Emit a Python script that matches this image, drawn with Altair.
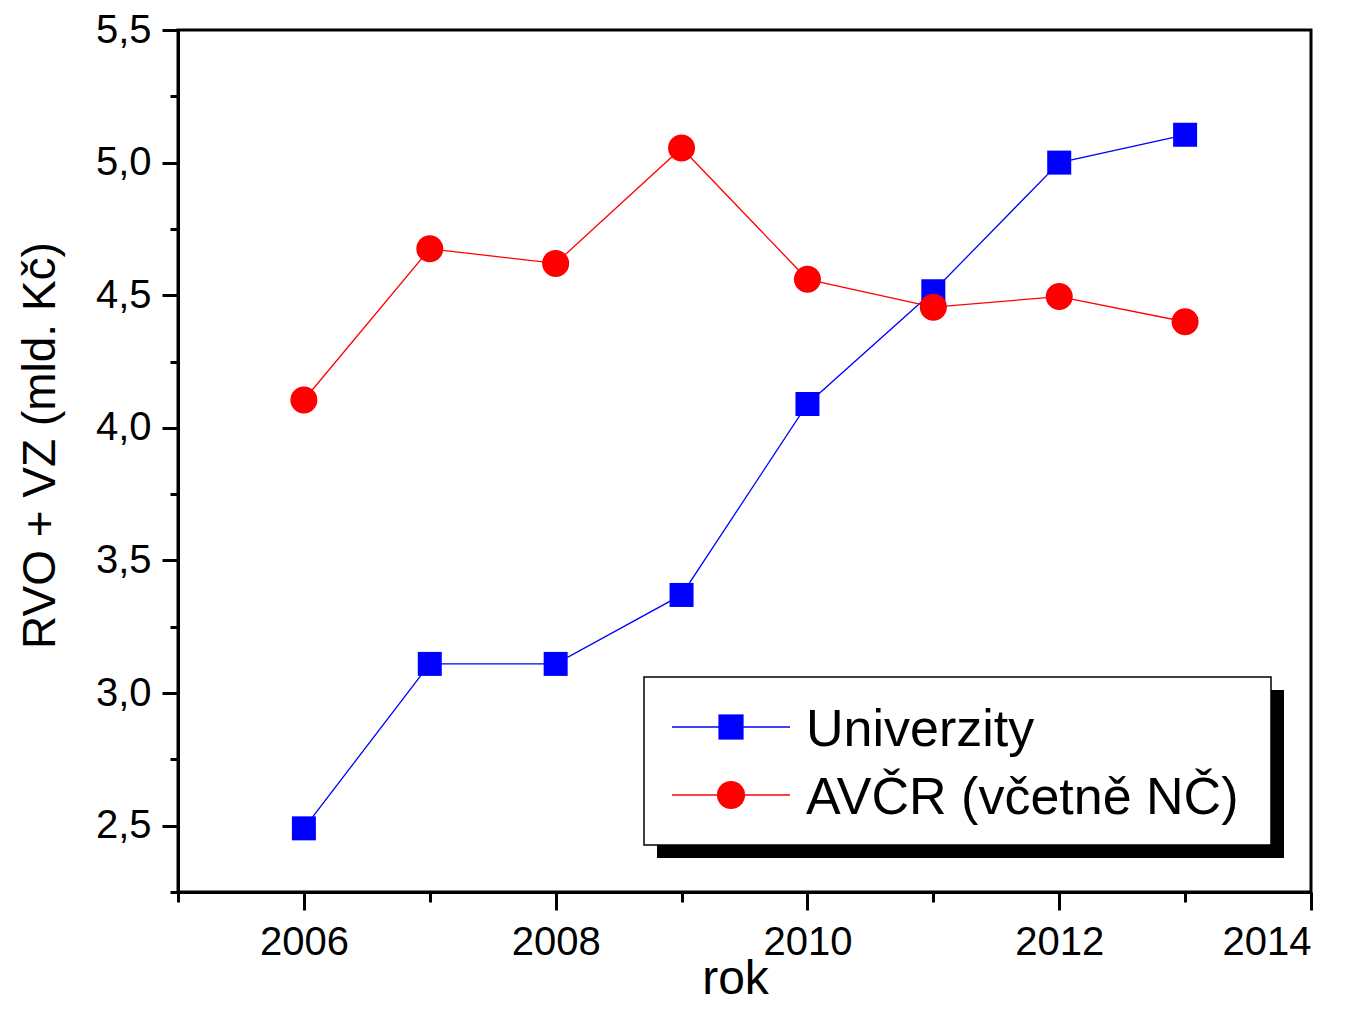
import altair as alt
import pandas as pd

years = [2006, 2007, 2008, 2009, 2010, 2011, 2012, 2013]
univerzity = [2.49, 3.11, 3.11, 3.37, 4.09, 4.515, 5.00, 5.105]
avcr = [4.105, 4.675, 4.62, 5.055, 4.56, 4.455, 4.495, 4.40]
series_names = ["Univerzity", "AVČR (včetně NČ)"]
series_colors = ["#0000ff", "#ff0000"]
series_shapes = ["square", "circle"]
series_sizes = [576, 729]
x_ticks = list(range(2005, 2015))
y_ticks = [2.25 + 0.25 * i for i in range(14)]

df = pd.DataFrame({
    "rok": years * 2,
    "hodnota": univerzity + avcr,
    "serie": [series_names[0]] * len(years) + [series_names[1]] * len(years),
})
legend_df = pd.DataFrame({"serie": series_names})

FONT = "Liberation Sans"

x_enc = alt.X(
    "rok:Q",
    scale=alt.Scale(domain=[2005, 2014], nice=False, zero=False),
    axis=alt.Axis(
        values=x_ticks,
        format="d",
        labelExpr="datum.value % 2 == 0 ? datum.label : ''",
        tickSize={"condition": {"test": "datum.value % 2 == 0", "value": 18}, "value": 10},
        labelFontSize=40,
        labelPadding=12,
        title="rok",
        titleFontSize=48,
        titleX=557,
        titleY=101,
        titleBaseline="alphabetic",
        titleAlign="center",
        titleAngle=0,
    ),
)
y_major = "abs(datum.value * 2 - round(datum.value * 2)) < 0.001"
y_enc = alt.Y(
    "hodnota:Q",
    scale=alt.Scale(domain=[2.25, 5.5], nice=False, zero=False),
    axis=alt.Axis(
        values=y_ticks,
        format=".1f",
        labelExpr=f"{y_major} ? replace(datum.label, '.', ',') : ''",
        tickSize={"condition": {"test": y_major, "value": 16}, "value": 8},
        labelFontSize=40,
        labelPadding=11,
        title="RVO + VZ (mld. Kč)",
        titleFontSize=46,
        titleX=-124,
        titleY=415,
        titleBaseline="alphabetic",
        titleAlign="center",
        titleAngle=270,
    ),
)

color_scale = alt.Scale(domain=series_names, range=series_colors)

lines = alt.Chart(df).mark_line(strokeWidth=1.3).encode(
    x=x_enc,
    y=y_enc,
    stroke=alt.Stroke("serie:N", scale=color_scale, legend=None),
    detail="serie:N",
)

point_layers = []
for name, col, shp, sz in zip(series_names, series_colors, series_shapes, series_sizes):
    point_layers.append(
        alt.Chart(df).transform_filter(alt.datum.serie == name)
        .mark_point(shape=shp, filled=True, size=sz, opacity=1, color=col)
        .encode(x=x_enc, y=y_enc)
    )

# --- legend box (drawn as decoration in pixel space) ---
one = pd.DataFrame({"k": [0]})
shadow = alt.Chart(one).mark_rect(color="black").encode(
    x=alt.value(479), x2=alt.value(1106), y=alt.value(660), y2=alt.value(828)
)
box = alt.Chart(one).mark_rect(fill="white", stroke="black", strokeWidth=1.5).encode(
    x=alt.value(466), x2=alt.value(1093), y=alt.value(647), y2=alt.value(815)
)

legend_layers = [shadow, box]
for i, (name, col, shp, sz) in enumerate(zip(series_names, series_colors, series_shapes, series_sizes)):
    cy = 697 + 68 * i
    entry = alt.Chart(legend_df).transform_filter(alt.datum.serie == name)
    legend_layers.append(
        entry.mark_rule(color=col, strokeWidth=1.3).encode(
            x=alt.value(494), x2=alt.value(612), y=alt.value(cy)
        )
    )
    legend_layers.append(
        entry.mark_point(shape=shp, filled=True, size=sz + 60, opacity=1, color=col).encode(
            x=alt.value(553), y=alt.value(cy)
        )
    )
    legend_layers.append(
        entry.mark_text(
            align="left", baseline="alphabetic", font=FONT, fontSize=52, color="black"
        ).encode(
            x=alt.value(628), y=alt.value(cy + 19), text="serie:N"
        )
    )

chart = alt.layer(lines, *point_layers, *legend_layers).properties(
    width=1133,
    height=862,
    autosize=alt.AutoSizeParams(type="none"),
    padding={"left": 170, "top": 22, "right": 44, "bottom": 112},
    background="white",
).configure_view(
    stroke="black", strokeWidth=3
).configure_axis(
    labelFont=FONT,
    titleFont=FONT,
    labelColor="black",
    titleColor="black",
    titleFontWeight="normal",
    grid=False,
    domainColor="black",
    domainWidth=3,
    tickColor="black",
    tickWidth=3,
)

chart.save("out.html", embed_options={"renderer": "svg", "actions": False})
